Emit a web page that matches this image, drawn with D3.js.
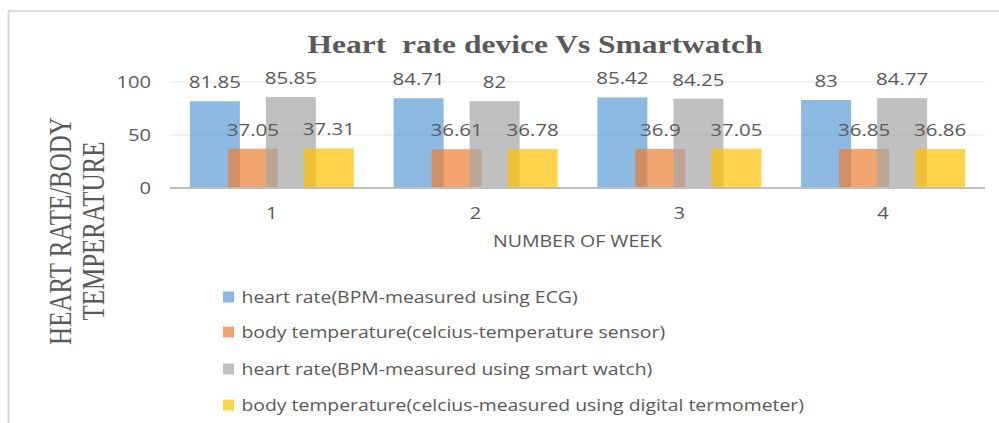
<!DOCTYPE html>
<html>
<head>
<meta charset="utf-8">
<script src="https://cdn.jsdelivr.net/npm/d3@7"></script>
<style>
  html, body { margin: 0; padding: 0; background: #ffffff; }
  svg { display: block; }
</style>
</head>
<body>
<script>
// ---------- data ----------
const categories = ["1", "2", "3", "4"];
const seriesNames = [
  "heart rate(BPM-measured using ECG)",
  "body temperature(celcius-temperature sensor)",
  "heart rate(BPM-measured using smart watch)",
  "body temperature(celcius-measured using digital termometer)"
];
const ecgHeartRate   = [81.85, 84.71, 85.42, 83];
const sensorTemp     = [37.05, 36.61, 36.9, 36.85];
const watchHeartRate = [85.85, 82, 84.25, 84.77];
const thermoTemp     = [37.31, 36.78, 37.05, 36.86];
const yTicks = [0, 50, 100];
const chartTitle = "Heart  rate device Vs Smartwatch";
const xTitle = "NUMBER OF WEEK";
const yTitleLines = ["HEART RATE/BODY", "TEMPERATURE"];

const seriesValues = [ecgHeartRate, sensorTemp, watchHeartRate, thermoTemp];
const colors = ["#5B9BD5", "#ED7D31", "#A5A5A5", "#FFC000"];

// ---------- layout (the reference is horizontally stretched) ----------
const W = 999, H = 423, SX = 1.26;
const VW = W / SX;
const svg = d3.select("body").append("svg")
  .attr("width", W).attr("height", H)
  .attr("viewBox", `0 0 ${VW} ${H}`)
  .attr("preserveAspectRatio", "none");

const sx = v => v / SX; // screen x -> viewBox x
const textColor = "#595959";
const sans = "'Open Sans', 'Noto Sans', sans-serif";
const serif = "'Liberation Serif', 'Times New Roman', serif";

// frame
svg.append("rect")
  .attr("x", sx(8.5)).attr("y", 11)
  .attr("width", VW + 20).attr("height", H + 20)
  .attr("fill", "none").attr("stroke", "#d9d9d9").attr("stroke-width", 1.6);

const plot = { left: sx(170), right: sx(985), top: 82, bottom: 188 };

const x = d3.scaleBand().domain(categories).range([plot.left, plot.right]);
const y = d3.scaleLinear().domain([0, 100]).range([plot.bottom, plot.top]);

// gridlines
svg.append("g").selectAll("line").data(yTicks.filter(t => t > 0)).join("line")
  .attr("x1", plot.left).attr("x2", plot.right)
  .attr("y1", d => y(d)).attr("y2", d => y(d))
  .attr("stroke", "#e4e4e4").attr("stroke-width", 1.2);

// y tick labels
svg.append("g").selectAll("text").data(yTicks).join("text")
  .attr("x", sx(151)).attr("y", d => y(d))
  .attr("dy", "0.36em")
  .attr("text-anchor", "end")
  .attr("font-family", sans).attr("font-size", 16)
  .attr("fill", textColor)
  .text(d => d);

// bars
const barW = sx(50);
const barStep = sx(38);
const groupW = barStep * (seriesValues.length - 1) + barW;
const barX = (cat, i) => x(cat) + x.bandwidth() / 2 - groupW / 2 + i * barStep;

seriesValues.forEach((vals, i) => {
  svg.append("g").selectAll("rect").data(categories).join("rect")
    .attr("x", (c) => barX(c, i))
    .attr("width", barW)
    .attr("y", (c, j) => y(vals[j]))
    .attr("height", (c, j) => y(0) - y(vals[j]))
    .attr("fill", colors[i])
    .attr("fill-opacity", 0.7);
});

// x axis line
svg.append("line")
  .attr("x1", plot.left).attr("x2", plot.right)
  .attr("y1", y(0)).attr("y2", y(0))
  .attr("stroke", "#bfbfbf").attr("stroke-width", 2.2);

// data labels
seriesValues.forEach((vals, i) => {
  svg.append("g").selectAll("text").data(categories).join("text")
    .attr("x", c => barX(c, i) + barW / 2)
    .attr("y", (c, j) => y(vals[j]) - 13)
    .attr("text-anchor", "middle")
    .attr("font-family", sans).attr("font-size", 16.3)
    .attr("fill", textColor)
    .text((c, j) => vals[j]);
});

// category labels
svg.append("g").selectAll("text").data(categories).join("text")
  .attr("x", c => x(c) + x.bandwidth() / 2)
  .attr("y", 219)
  .attr("text-anchor", "middle")
  .attr("font-family", sans).attr("font-size", 16)
  .attr("fill", textColor)
  .text(c => c);

// x title
svg.append("text")
  .attr("x", (plot.left + plot.right) / 2).attr("y", 247)
  .attr("text-anchor", "middle")
  .attr("font-family", sans).attr("font-size", 15.5)
  .attr("fill", textColor)
  .text(xTitle);

// y title
const yTitleBaselines = [sx(71), sx(104)];
yTitleLines.forEach((t, i) => {
  svg.append("text")
    .attr("transform", `translate(${yTitleBaselines[i]},231) rotate(-90)`)
    .attr("text-anchor", "middle")
    .attr("font-family", serif).attr("font-size", 25)
    .attr("fill", textColor)
    .text(t);
});

// chart title
svg.append("text")
  .attr("x", sx(535)).attr("y", 53)
  .attr("text-anchor", "middle")
  .attr("font-family", serif).attr("font-weight", "bold").attr("font-size", 25)
  .attr("fill", textColor)
  .style("white-space", "pre")
  .attr("xml:space", "preserve")
  .text(chartTitle);

// legend
const legendRowsY = [297, 332, 369, 405];
const legend = svg.append("g").selectAll("g").data(seriesNames).join("g");
legend.append("rect")
  .attr("x", sx(223)).attr("y", (d, i) => legendRowsY[i] - 5.5)
  .attr("width", sx(11)).attr("height", 11)
  .attr("fill", (d, i) => colors[i]).attr("fill-opacity", 0.7);
legend.append("text")
  .attr("x", sx(241.5)).attr("y", (d, i) => legendRowsY[i])
  .attr("dy", "0.36em")
  .attr("font-family", sans).attr("font-size", 15.4)
  .attr("fill", textColor)
  .text(d => d);
</script>
</body>
</html>
